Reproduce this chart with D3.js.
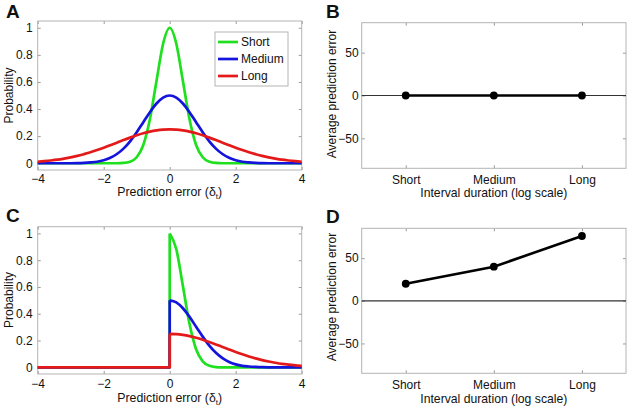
<!DOCTYPE html>
<html><head><meta charset="utf-8">
<script src="https://cdn.jsdelivr.net/npm/d3@7"></script>
<style>
body{margin:0;background:#fff}
svg{display:block}
text{font-family:"Liberation Sans",Arial,Helvetica,sans-serif;fill:#111}
</style>
</head><body>
<svg id="c" width="630" height="411"></svg>
<script>
// ---- data ----
const xGrid = [-4,-3.8,-3.6,-3.4,-3.2,-3,-2.8,-2.6,-2.4,-2.2,-2,-1.8,-1.6,-1.4,-1.2,-1,-0.8,-0.6,-0.4,-0.2,0,
  0.2,0.4,0.6,0.8,1,1.2,1.4,1.6,1.8,2,2.2,2.4,2.6,2.8,3,3.2,3.4,3.6,3.8,4];
const shortA  = [0,0,0,0,0,0,0,0,0,0,0,0,0,0.002,0.011,0.044,0.135,0.325,0.607,0.882,1,
  0.882,0.607,0.325,0.135,0.044,0.011,0.002,0,0,0,0,0,0,0,0,0,0,0,0,0];
const mediumA = [0,0,0,0,0,0,0.001,0.003,0.006,0.011,0.022,0.040,0.068,0.108,0.162,0.229,0.303,0.377,0.441,0.485,0.5,
  0.485,0.441,0.377,0.303,0.229,0.162,0.108,0.068,0.040,0.022,0.011,0.006,0.003,0.001,0,0,0,0,0,0];
const longA   = [0.011,0.015,0.020,0.026,0.034,0.043,0.054,0.067,0.081,0.097,0.114,0.133,0.152,0.171,0.189,0.206,0.221,0.233,0.242,0.248,0.25,
  0.248,0.242,0.233,0.221,0.206,0.189,0.171,0.152,0.133,0.114,0.097,0.081,0.067,0.054,0.043,0.034,0.026,0.020,0.015,0.011];

const xNeg = [-4, 0];                 // flat zero part of panel C
const xHalf = [0,0.2,0.4,0.6,0.8,1,1.2,1.4,1.6,1.8,2,2.2,2.4,2.6,2.8,3,3.2,3.4,3.6,3.8,4];
const shortC  = [1,0.882,0.607,0.325,0.135,0.044,0.011,0.002,0,0,0,0,0,0,0,0,0,0,0,0,0];
const mediumC = [0.5,0.485,0.441,0.377,0.303,0.229,0.162,0.108,0.068,0.040,0.022,0.011,0.006,0.003,0.001,0,0,0,0,0,0];
const longC   = [0.25,0.248,0.242,0.233,0.221,0.206,0.189,0.171,0.152,0.133,0.114,0.097,0.081,0.067,0.054,0.043,0.034,0.026,0.020,0.015,0.011];

const seriesNames  = ["Short","Medium","Long"];
const seriesColors = ["#1ee01e","#1414dc","#e41a1a"];

const categories = ["Short","Medium","Long"];
const errB = [0,0,0];
const errD = [20,40,76];

const xTicks = [-4,-2,0,2,4];
const probTicks = [0,0.2,0.4,0.6,0.8,1];
const errTicks = [-50,0,50];

// ---- drawing ----
const svg = d3.select("#c");
const BOX = "#b4b4b4";

function frame(box, x, y, xt, yt, xfmt, yfmt) {
  const g = svg.append("g");
  const style = sel => {
    sel.select(".domain").remove();
    sel.selectAll(".tick line").attr("stroke", "#9a9a9a");
    sel.selectAll(".tick text").attr("font-size", 12).attr("font-family", null).attr("fill", "#111");
  };
  g.append("g").attr("transform", `translate(0,${box.b})`)
    .call(d3.axisBottom(x).tickValues(xt).tickFormat(xfmt).tickSizeInner(-3).tickSizeOuter(0).tickPadding(box.px))
    .call(style);
  g.append("g").attr("transform", `translate(0,${box.t})`)
    .call(d3.axisTop(x).tickValues(xt).tickFormat(() => "").tickSizeInner(-3).tickSizeOuter(0))
    .call(style);
  g.append("g").attr("transform", `translate(${box.l},0)`)
    .call(d3.axisLeft(y).tickValues(yt).tickFormat(yfmt).tickSizeInner(-3).tickSizeOuter(0).tickPadding(box.py))
    .call(style);
  g.append("g").attr("transform", `translate(${box.r},0)`)
    .call(d3.axisRight(y).tickValues(yt).tickFormat(() => "").tickSizeInner(-3).tickSizeOuter(0))
    .call(style);
  g.append("rect").attr("x", box.l).attr("y", box.t).attr("width", box.r - box.l).attr("height", box.b - box.t)
    .attr("fill", "none").attr("stroke", BOX).attr("stroke-width", 1);
  return g;
}

function letter(t, x, y) {
  svg.append("text").attr("x", x).attr("y", y).attr("font-size", 19).attr("font-weight", "bold").text(t);
}
function ylabel(t, x, cy) {
  svg.append("text").attr("transform", `translate(${x},${cy}) rotate(-90)`).attr("text-anchor", "middle")
    .attr("font-size", 12).text(t);
}
function xlabelDelta(cx, y) {
  const t = svg.append("text").attr("x", cx).attr("y", y).attr("text-anchor", "middle").attr("font-size", 12.3);
  t.append("tspan").text("Prediction error (\u03b4");
  t.append("tspan").attr("font-size", 8).attr("dy", 3).text("t");
  t.append("tspan").attr("dy", -3).text(")");
}
function xlabel(t, cx, y) {
  svg.append("text").attr("x", cx).attr("y", y).attr("text-anchor", "middle").attr("font-size", 12.2).text(t);
}

const probFmt = d => d === 0 ? "0" : d === 1 ? "1" : d3.format(".1f")(d);

// Panel A
const boxA = {l: 37.7, r: 301.7, t: 21, b: 170, px: 4, py: 5};
const xA = d3.scaleLinear().domain([-4, 4]).range([boxA.l, boxA.r]);
const yA = d3.scaleLinear().domain([-0.05, 1.05]).range([boxA.b, boxA.t]);
frame(boxA, xA, yA, xTicks, probTicks, d3.format("d"), probFmt);
const lineA = d3.line().x((d, i) => xA(xGrid[i])).y(d => yA(d)).curve(d3.curveMonotoneX);
[shortA, mediumA, longA].forEach((s, k) => {
  svg.append("path").attr("d", lineA(s)).attr("fill", "none").attr("stroke", seriesColors[k])
    .attr("stroke-width", 2.7).attr("stroke-linejoin", "round");
});
// legend
const leg = {l: 215, t: 32, w: 73, h: 54};
svg.append("rect").attr("x", leg.l).attr("y", leg.t).attr("width", leg.w).attr("height", leg.h)
  .attr("fill", "#fff").attr("stroke", BOX);
seriesNames.forEach((n, k) => {
  const yy = leg.t + 10 + k * 17;
  svg.append("line").attr("x1", leg.l + 3).attr("x2", leg.l + 23).attr("y1", yy).attr("y2", yy)
    .attr("stroke", seriesColors[k]).attr("stroke-width", 2.7);
  svg.append("text").attr("x", leg.l + 26).attr("y", yy + 4.3).attr("font-size", 12).text(n);
});
letter("A", 6, 18);
ylabel("Probability", 12.5, 95.5);
xlabelDelta(169.7, 196.3);

// Panel C
const boxC = {l: 37.7, r: 301.7, t: 226.7, b: 374, px: 5, py: 5};
const xC = d3.scaleLinear().domain([-4, 4]).range([boxC.l, boxC.r]);
const yC = d3.scaleLinear().domain([-0.05, 1.05]).range([boxC.b, boxC.t]);
frame(boxC, xC, yC, xTicks, probTicks, d3.format("d"), probFmt);
const lineLin = d3.line().x(d => xC(d[0])).y(d => yC(d[1]));
const lineMono = d3.line().x((d, i) => xC(xHalf[i])).y(d => yC(d)).curve(d3.curveMonotoneX);
[shortC, mediumC, longC].forEach((s, k) => {
  const left = lineLin([[xNeg[0], 0], [xNeg[1], 0], [xHalf[0], s[0]]]);
  svg.append("path").attr("d", left + lineMono(s)).attr("fill", "none").attr("stroke", seriesColors[k])
    .attr("stroke-width", 2.7).attr("stroke-linejoin", "round");
});
letter("C", 6, 222);
ylabel("Probability", 12.5, 300);
xlabelDelta(169.7, 402);

// Panel B
const boxB = {l: 361.7, r: 626, t: 22.7, b: 168.3, px: 7, py: 3};
const xB = d3.scalePoint().domain(categories).range([boxB.l, boxB.r]).padding(0.5);
const yB = d3.scaleLinear().domain([-85, 85]).range([boxB.b, boxB.t]);
frame(boxB, xB, yB, categories, errTicks, d => d, d3.format("d"));
svg.append("line").attr("x1", boxB.l).attr("x2", boxB.r).attr("y1", yB(0)).attr("y2", yB(0))
  .attr("stroke", "#333").attr("stroke-width", 1.2);
const lineB = d3.line().x((d, i) => xB(categories[i])).y(d => yB(d));
svg.append("path").attr("d", lineB(errB)).attr("fill", "none").attr("stroke", "#000").attr("stroke-width", 2.6);
svg.selectAll(null).data(errB).join("circle").attr("cx", (d, i) => xB(categories[i])).attr("cy", d => yB(d))
  .attr("r", 3.9).attr("fill", "#000");
letter("B", 326, 18);
ylabel("Average prediction error", 336, 94);
xlabel("Interval duration (log scale)", 493.8, 197);

// Panel D
const boxD = {l: 361.7, r: 626, t: 228.3, b: 373.3, px: 7, py: 3};
const xD = d3.scalePoint().domain(categories).range([boxD.l, boxD.r]).padding(0.5);
const yD = d3.scaleLinear().domain([-85, 85]).range([boxD.b, boxD.t]);
frame(boxD, xD, yD, categories, errTicks, d => d, d3.format("d"));
svg.append("line").attr("x1", boxD.l).attr("x2", boxD.r).attr("y1", yD(0)).attr("y2", yD(0))
  .attr("stroke", "#333").attr("stroke-width", 1.2);
const lineD = d3.line().x((d, i) => xD(categories[i])).y(d => yD(d));
svg.append("path").attr("d", lineD(errD)).attr("fill", "none").attr("stroke", "#000").attr("stroke-width", 2.6);
svg.selectAll(null).data(errD).join("circle").attr("cx", (d, i) => xD(categories[i])).attr("cy", d => yD(d))
  .attr("r", 3.9).attr("fill", "#000");
letter("D", 326, 223);
ylabel("Average prediction error", 336, 297);
xlabel("Interval duration (log scale)", 493.8, 403);
</script>
</body></html>
